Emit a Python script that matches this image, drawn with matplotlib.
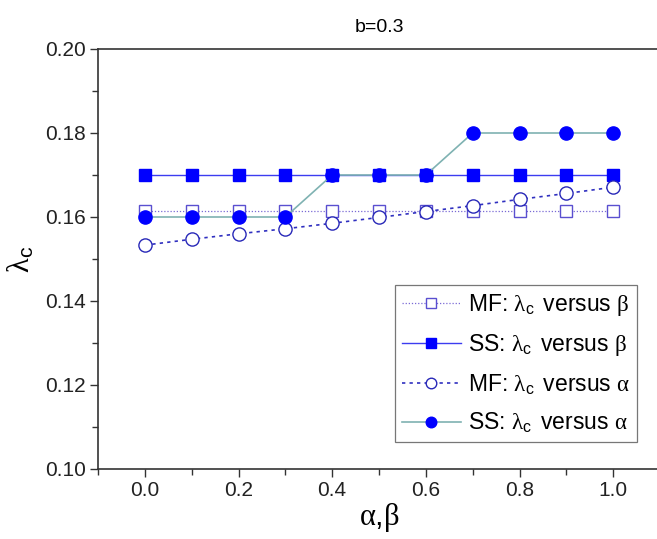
import numpy as np
from matplotlib import pyplot as plt
from matplotlib.ticker import MultipleLocator

plt.rcParams['font.family'] = ['Liberation Sans', 'DejaVu Sans']
plt.rcParams['mathtext.fontset'] = 'custom'
plt.rcParams['mathtext.rm'] = 'Liberation Serif'
plt.rcParams['mathtext.it'] = 'Liberation Serif'
plt.rcParams['mathtext.sf'] = 'Liberation Sans'

x = [0.0, 0.1, 0.2, 0.3, 0.4, 0.5, 0.6, 0.7, 0.8, 0.9, 1.0]
mf_beta = [0.1615] * 11
ss_beta = [0.17] * 11
mf_alpha = [0.1533, 0.1547, 0.1560, 0.1572, 0.1585, 0.1599, 0.1613, 0.1627, 0.1642, 0.1656, 0.1671]
ss_alpha = [0.16, 0.16, 0.16, 0.16, 0.17, 0.17, 0.17, 0.18, 0.18, 0.18, 0.18]

fig = plt.figure(figsize=(6.57, 5.39), dpi=100)
ax = fig.add_axes([98 / 657, 70 / 539, 562 / 657, 420 / 539])

lam = r'$\mathrm{\lambda}_{\mathsf{c}}\,$'
beta = r'$\mathrm{\beta}$'
alpha = r'$\mathrm{\alpha}$'
ax.plot(x, mf_beta, color='#7a6ad5', lw=0.9, ls=(0, (1, 1.5)), marker='s', ms=9,
        mfc='white', mec='#5a4fd0', mew=1.0, label='MF: ' + lam + ' versus ' + beta)
ax.plot(x, ss_beta, color='#3c3cf0', lw=1.0, ls='-', marker='s', ms=9,
        mfc='#0000ff', mec='#0000ff', label='SS: ' + lam + ' versus ' + beta)
ax.plot(x, mf_alpha, color='#3030c0', lw=1.2, ls=(0, (2, 2.5)), marker='o', ms=9.5,
        mfc='white', mec='#2828b8', mew=1.0, label='MF: ' + lam + ' versus ' + alpha)
ax.plot(x, ss_alpha, color='#7fb2b2', lw=1.2, ls='-', marker='o', ms=9.5,
        mfc='#0000ff', mec='#0000ff', label='SS: ' + lam + ' versus ' + alpha)

ax.set_xlim(-0.1, 1.1)
ax.set_ylim(0.10, 0.20)
ax.xaxis.set_major_locator(MultipleLocator(0.2))
ax.xaxis.set_minor_locator(MultipleLocator(0.1))
ax.yaxis.set_major_locator(MultipleLocator(0.02))
ax.yaxis.set_minor_locator(MultipleLocator(0.01))
ax.xaxis.set_major_formatter(plt.FormatStrFormatter('%.1f'))
ax.yaxis.set_major_formatter(plt.FormatStrFormatter('%.2f'))
ax.tick_params(which='both', direction='out', top=False, right=False, color='#333333',
               labelsize=15, labelcolor='#222222')
ax.tick_params(which='major', length=6, width=1.0, pad=3)
ax.tick_params(which='minor', length=4, width=1.0)
for s in ['left', 'bottom', 'top']:
    ax.spines[s].set_linewidth(1.2)
    ax.spines[s].set_color('#333333')
ax.spines['right'].set_visible(False)

ax.set_title('b=0.3', fontsize=14, pad=12)
ax.set_xlabel(r'$\mathrm{\alpha}$,$\mathrm{\beta}$', fontsize=22, labelpad=0)
ax.set_ylabel(lam, fontsize=22, labelpad=6)

leg = ax.legend(loc='lower right', bbox_to_anchor=(0.959, 0.064), fontsize=16.5,
                frameon=True, fancybox=False, edgecolor='#555555', markerscale=0.8,
                handlelength=2.6, handletextpad=0.3, labelspacing=0.62, borderpad=0.3,
                borderaxespad=0)
leg.get_frame().set_linewidth(0.9)

fig.savefig('out.png', dpi=100)
